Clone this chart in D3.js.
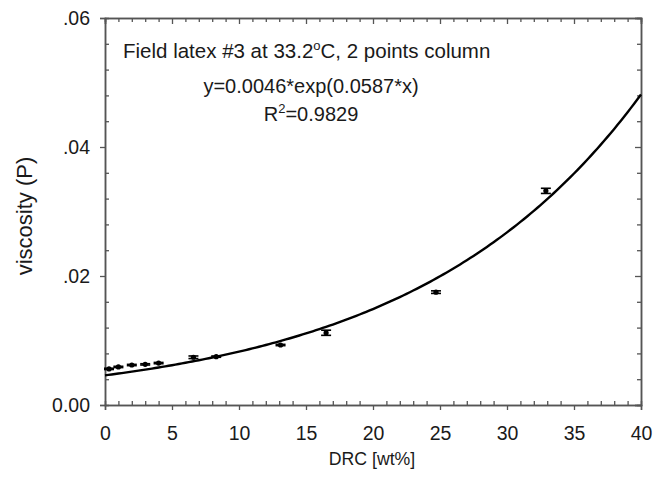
<!DOCTYPE html>
<html>
<head>
<meta charset="utf-8">
<script src="https://cdn.jsdelivr.net/npm/d3@7"></script>
<style>
  body { margin: 0; background: #fff; }
  text { font-family: "Liberation Sans", Arial, sans-serif; fill: #1a1a1a; }
</style>
</head>
<body>
<div id="chart"></div>
<script>

// data
const drc = [0.3, 1.0, 2.0, 3.0, 4.0, 6.6, 8.3, 13.1, 16.5, 24.7, 32.9];
const viscosity = [0.0056, 0.0059, 0.0062, 0.0063, 0.0065, 0.0074, 0.0075, 0.0093, 0.0112, 0.0175, 0.0332];
const errors = [0.0001, 0.0001, 0.0001, 0.0001, 0.0001, 0.0002, 0.0001, 0.0001, 0.0004, 0.0002, 0.0004];

// fit shown on the chart: y = a*exp(b*x)
const fitA = 0.0046;
const fitB = 0.0587;

const xTicks = [0, 5, 10, 15, 20, 25, 30, 35, 40];
const yTicks = [0, 0.02, 0.04, 0.06];
const yTickLabels = ["0.00", ".02", ".04", ".06"];

const width = 666;
const height = 481;
const margin = {left: 105, right: 25, top: 18, bottom: 76};

const svg = d3.select("#chart")
    .append("svg")
    .attr("width", width)
    .attr("height", height);

const x = d3.scaleLinear()
    .domain([0, 40])
    .range([margin.left, width - margin.right]);

const y = d3.scaleLinear()
    .domain([0, 0.06])
    .range([height - margin.bottom, margin.top]);

//////////////////////////////////////////////////////
// AXES
//////////////////////////////////////////////////////

const xMinor = d3.range(0, 41).filter(v => v % 5 !== 0);
const yMinor = d3.range(1, 15).map(i => +(i * 0.004).toFixed(3)).filter(v => Math.round(v * 1000) % 20 !== 0);

function styleAxis(g){
    g.select(".domain").attr("stroke", "#555").attr("stroke-width", 1.5);
    g.selectAll(".tick line").attr("stroke", "#555").attr("stroke-width", 1.3);
    g.selectAll(".tick text")
        .style("font-family", "'Liberation Sans', Arial, sans-serif")
        .style("font-size", "19.5px")
        .attr("fill", "#1a1a1a");
}

const bottomY = height - margin.bottom;
const rightX = width - margin.right;

// bottom
svg.append("g")
    .attr("transform", `translate(0,${bottomY})`)
    .call(d3.axisBottom(x).tickValues(xTicks).tickSize(5).tickPadding(16).tickFormat(d3.format("d")))
    .call(styleAxis);
svg.append("g")
    .attr("transform", `translate(0,${bottomY})`)
    .call(d3.axisBottom(x).tickValues(xMinor).tickSize(-4).tickFormat(""))
    .call(styleAxis);

// top
svg.append("g")
    .attr("transform", `translate(0,${margin.top})`)
    .call(d3.axisTop(x).tickValues(xTicks).tickSize(-6).tickFormat(""))
    .call(styleAxis);
svg.append("g")
    .attr("transform", `translate(0,${margin.top})`)
    .call(d3.axisTop(x).tickValues(xMinor).tickSize(-4).tickFormat(""))
    .call(styleAxis);

// left
svg.append("g")
    .attr("transform", `translate(${margin.left},0)`)
    .call(d3.axisLeft(y).tickValues(yTicks).tickSize(5).tickPadding(10)
        .tickFormat((d, i) => yTickLabels[i]))
    .call(styleAxis);
svg.append("g")
    .attr("transform", `translate(${margin.left},0)`)
    .call(d3.axisLeft(y).tickValues(yMinor).tickSize(-4).tickFormat(""))
    .call(styleAxis);

// right
svg.append("g")
    .attr("transform", `translate(${rightX},0)`)
    .call(d3.axisRight(y).tickValues(yTicks).tickSize(-6).tickFormat(""))
    .call(styleAxis);
svg.append("g")
    .attr("transform", `translate(${rightX},0)`)
    .call(d3.axisRight(y).tickValues(yMinor).tickSize(-4).tickFormat(""))
    .call(styleAxis);

//////////////////////////////////////////////////////
// FIT CURVE
//////////////////////////////////////////////////////

const fitX = d3.range(0, 40.01, 0.25);

svg.append("path")
    .datum(fitX)
    .attr("fill", "none")
    .attr("stroke", "#000")
    .attr("stroke-width", 2.4)
    .attr("d", d3.line()
        .x(d => x(d))
        .y(d => y(fitA * Math.exp(fitB * d))));

//////////////////////////////////////////////////////
// POINTS + ERROR BARS
//////////////////////////////////////////////////////

const points = drc.map((d, i) => ({x: d, y: viscosity[i], e: errors[i]}));

const eb = svg.selectAll(".err")
    .data(points)
    .enter()
    .append("g")
    .attr("class", "err")
    .attr("stroke", "#000")
    .attr("stroke-width", 1.6);

eb.append("line")
    .attr("x1", d => x(d.x)).attr("x2", d => x(d.x))
    .attr("y1", d => y(d.y - d.e)).attr("y2", d => y(d.y + d.e));

eb.append("line")
    .attr("x1", d => x(d.x) - 5).attr("x2", d => x(d.x) + 5)
    .attr("y1", d => y(d.y + d.e)).attr("y2", d => y(d.y + d.e));

eb.append("line")
    .attr("x1", d => x(d.x) - 5).attr("x2", d => x(d.x) + 5)
    .attr("y1", d => y(d.y - d.e)).attr("y2", d => y(d.y - d.e));

svg.selectAll(".dot")
    .data(points)
    .enter()
    .append("circle")
    .attr("class", "dot")
    .attr("cx", d => x(d.x))
    .attr("cy", d => y(d.y))
    .attr("r", 2.6)
    .attr("fill", "#000");

//////////////////////////////////////////////////////
// TEXT
//////////////////////////////////////////////////////

const title = svg.append("text")
    .attr("x", 123)
    .attr("y", 58)
    .style("font-size", "20.5px");
title.append("tspan").text("Field latex #3 at 33.2");
title.append("tspan").attr("dy", -8).style("font-size", "13px").text("o");
title.append("tspan").attr("dy", 8).text("C, 2 points column");

svg.append("text")
    .attr("x", 311)
    .attr("y", 93)
    .attr("text-anchor", "middle")
    .style("font-size", "20px")
    .text("y=0.0046*exp(0.0587*x)");

const r2 = svg.append("text")
    .attr("x", 311)
    .attr("y", 121)
    .attr("text-anchor", "middle")
    .style("font-size", "20px");
r2.append("tspan").text("R");
r2.append("tspan").attr("dy", -8).style("font-size", "13px").text("2");
r2.append("tspan").attr("dy", 8).text("=0.9829");

svg.append("text")
    .attr("x", 372)
    .attr("y", 465)
    .attr("text-anchor", "middle")
    .style("font-size", "17.7px")
    .text("DRC [wt%]");

svg.append("text")
    .attr("transform", "rotate(-90)")
    .attr("x", -216)
    .attr("y", 32)
    .attr("text-anchor", "middle")
    .style("font-size", "22px")
    .text("viscosity (P)");

</script>
</body>
</html>
